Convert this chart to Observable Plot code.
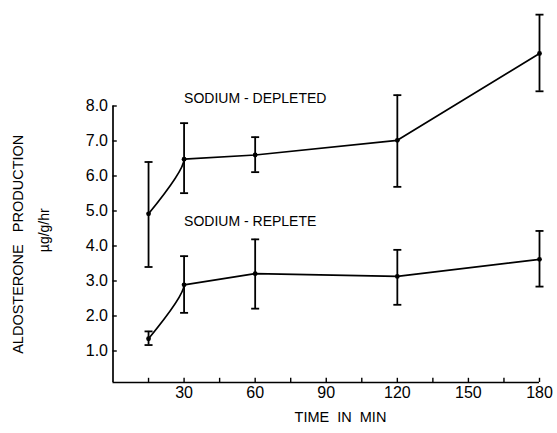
<!DOCTYPE html>
<html>
<head>
<meta charset="utf-8">
<script src="https://cdn.jsdelivr.net/npm/d3@7"></script>
<script src="https://cdn.jsdelivr.net/npm/@observablehq/plot@0.6"></script>
<style>
  html, body { margin: 0; padding: 0; background: #fff; }
  #chart svg { display: block; }
</style>
</head>
<body>
<div id="chart"></div>
<script>
// ---- data ----
const times = [15, 30, 60, 120, 180];
const depletedMean = [4.92, 6.48, 6.60, 7.02, 9.50];
const depletedLow  = [3.40, 5.51, 6.11, 5.69, 8.42];
const depletedHigh = [6.40, 7.51, 7.11, 8.31, 10.61];
const repleteMean  = [1.35, 2.89, 3.21, 3.13, 3.62];
const repleteLow   = [1.17, 2.09, 2.21, 2.32, 2.84];
const repleteHigh  = [1.56, 3.71, 4.19, 3.89, 4.43];
const seriesNames  = ["SODIUM - DEPLETED", "SODIUM - REPLETE"];
const yTickValues  = [1, 2, 3, 4, 5, 6, 7, 8];
const xTickLabels  = [30, 60, 90, 120, 150, 180];
const xTickMarks   = [15, 30, 45, 60, 75, 90, 105, 120, 135, 150, 165, 180];
const xTitle = "TIME  IN  MIN";
const yTitle = "ALDOSTERONE   PRODUCTION";
const yUnit  = "\u00b5g/g/hr";

const data = [];
times.forEach((t, i) => {
  data.push({series: seriesNames[0], t, mean: depletedMean[i], lo: depletedLow[i], hi: depletedHigh[i]});
});
times.forEach((t, i) => {
  data.push({series: seriesNames[1], t, mean: repleteMean[i], lo: repleteLow[i], hi: repleteHigh[i]});
});

// curve: first segment bends into a vertical tangent, the rest straight
function bentStart(context) {
  let i = 0, y0 = 0;
  return {
    areaStart() {}, areaEnd() {},
    lineStart() { i = 0; },
    lineEnd() {},
    point(x, y) {
      x = +x; y = +y;
      if (i === 0) context.moveTo(x, y);
      else if (i === 1) context.quadraticCurveTo(x, y0 + 0.8 * (y - y0), x, y);
      else context.lineTo(x, y);
      y0 = y; i++;
    }
  };
}

const capSymbol = {
  draw(ctx, size) { ctx.moveTo(-4, 0); ctx.lineTo(4, 0); }
};

const yBottom = 0.1;
const font = "'Liberation Sans', Arial, sans-serif";

const chart = Plot.plot({
  width: 557,
  height: 433,
  marginLeft: 112.5,
  marginRight: 18,
  marginTop: 7.5,
  marginBottom: 51,
  style: {background: "#fff", color: "#000", fontFamily: font, fontSize: "15px"},
  x: {domain: [0, 180], axis: null},
  y: {domain: [yBottom, 10.8], axis: null},
  marks: [
    // axes lines
    Plot.ruleX([0], {y1: yBottom, y2: 8, stroke: "#000", strokeWidth: 1.7}),
    Plot.ruleY([yBottom], {x1: 0, x2: 180, stroke: "#000", strokeWidth: 1.7}),
    // inward ticks
    Plot.ruleY(yTickValues, {x1: 0, x2: 1.8, stroke: "#000", strokeWidth: 1.4}),
    Plot.ruleX(xTickMarks, {y1: yBottom, y2: yBottom + 0.12, stroke: "#000", strokeWidth: 1.4}),
    // tick labels
    Plot.text(yTickValues, {x: 0, y: d => d, text: d => d.toFixed(1), dx: -5, textAnchor: "end",
      lineAnchor: "middle", fontSize: 16}),
    Plot.text(xTickLabels, {x: d => d, y: yBottom, text: d => String(d), dy: 10, lineAnchor: "middle",
      fontSize: 16}),
    // error bars
    Plot.ruleX(data, {x: "t", y1: "lo", y2: "hi", stroke: "#000", strokeWidth: 1.8}),
    Plot.dot(data, {x: "t", y: "hi", symbol: capSymbol, r: 4, stroke: "#000", strokeWidth: 1.8}),
    Plot.dot(data, {x: "t", y: "lo", symbol: capSymbol, r: 4, stroke: "#000", strokeWidth: 1.8}),
    // lines
    Plot.line(data, {x: "t", y: "mean", z: "series", curve: bentStart, stroke: "#000", strokeWidth: 1.7}),
    Plot.dot(data, {x: "t", y: "mean", r: 2.4, fill: "#000"}),
    // series labels
    Plot.text([seriesNames[0]], {x: 30, y: 8.2, text: d => d, textAnchor: "start", fontSize: 14}),
    Plot.text([seriesNames[1]], {x: 30, y: 4.7, text: d => d, textAnchor: "start", fontSize: 14}),
    // axis titles
    Plot.text([xTitle], {x: 96, y: -0.9, text: d => d, lineAnchor: "middle", fontSize: 14.5}),
    Plot.text([yTitle], {x: -40, y: 4.05, text: d => d, rotate: -90, lineAnchor: "middle", fontSize: 14.5}),
    Plot.text([yUnit], {x: -29, y: 4.45, text: d => d, rotate: -90, lineAnchor: "middle", fontSize: 14})
  ]
});

document.getElementById("chart").appendChild(chart);
</script>
</body>
</html>
